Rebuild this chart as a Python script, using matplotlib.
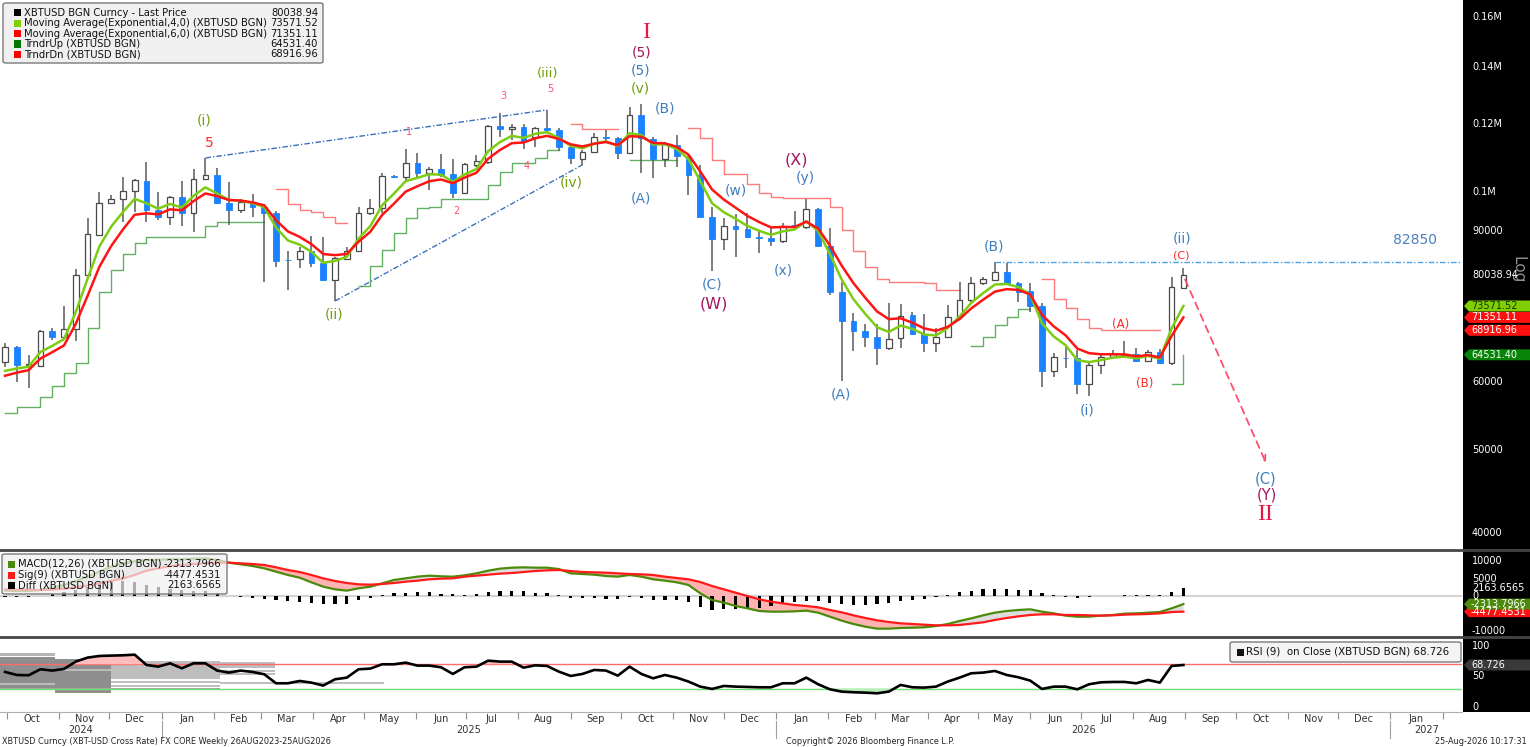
import numpy as np
import pandas as pd
import matplotlib
matplotlib.use("Agg")
import matplotlib.pyplot as plt
import matplotlib.dates as mdates
import matplotlib.transforms as mtransforms
from matplotlib.patches import Polygon, Rectangle, FancyBboxPatch
from matplotlib.lines import Line2D
from matplotlib.ticker import NullLocator

plt.rcParams["font.family"] = ["DejaVu Sans"]

W, H = 1530, 747

# ---------------- data ----------------
dates = pd.date_range("2024-09-30", periods=101, freq="7D")

opens = [63300, 65900, 62800, 62600, 68800, 67700, 69150, 79950, 89050, 97050,
         98100, 100200, 102900, 95250, 93450, 98600, 94500, 103500, 104600, 97050,
         95250, 97050, 96000, 94500, 83250, 83450, 85300, 82600, 78900, 83450,
         85300, 94500, 95750, 104300, 104050, 108050, 105150, 106300, 104900, 99700,
         107500, 108300, 119400, 118400, 119050, 115900, 118750, 118100, 112800, 109200,
         111300, 115900, 115550, 111000, 122900, 115300, 109200, 113400, 109800, 104600,
         93450, 88100, 91200, 90500, 88550, 88300, 87600, 91450, 91000, 95500,
         86450, 76400, 70650, 68800, 67700, 65700, 67500, 71800, 68250, 66600,
         67700, 71400, 74750, 78250, 78900, 80600, 78250, 76600, 73550, 61750,
         64050, 64000, 59650, 62800, 64150, 64300, 64650, 63450, 65000, 63100,
         77200]
highs = [66600, 66100, 64500, 69000, 69350, 73550, 81250, 93200, 99950, 99150,
         104050, 103500, 108300, 99950, 98900, 102900, 106300, 109500, 106550, 102650,
         98100, 99400, 96800, 95000, 85300, 86200, 88800, 88550, 83950, 86200,
         96000, 98100, 105150, 104600, 112200, 111000, 106950, 110700, 109200, 108050,
         110400, 119700, 123550, 120000, 120000, 119050, 124600, 118750, 113400, 111900,
         117150, 118100, 115900, 125600, 126650, 115900, 114400, 116500, 110100, 107500,
         96000, 93200, 94200, 94500, 90250, 91000, 91950, 95000, 98100, 95750,
         90750, 78450, 72200, 70100, 70100, 74150, 73950, 72400, 72000, 69350,
         73750, 78450, 79550, 79550, 82850, 82600, 78450, 78250, 74150, 64850,
         65900, 65350, 63300, 64500, 65350, 66950, 65700, 65350, 65550, 79550,
         81500]
lows = [62450, 60000, 59000, 62450, 67150, 67150, 66950, 79750, 88800, 96800,
        92200, 94750, 92200, 92700, 91450, 91200, 89750, 103200, 96800, 91450,
        94500, 93450, 78450, 81700, 76800, 81500, 81700, 78700, 74550, 83250,
        85050, 93950, 94500, 103750, 103200, 104050, 100500, 104050, 98350, 99400,
        106950, 107800, 115900, 115000, 112200, 112800, 117800, 111600, 107800, 107500,
        111000, 114400, 109200, 110700, 105150, 103750, 106950, 106950, 99150, 93200,
        80800, 85500, 83950, 88350, 84850, 86450, 87150, 90750, 90500, 86200,
        75750, 60150, 65200, 65900, 62800, 65350, 65700, 68050, 65000, 65000,
        67500, 70850, 74350, 77850, 78700, 77850, 74350, 72400, 59150, 60800,
        62250, 58050, 57750, 61300, 64000, 64000, 63300, 63300, 62950, 62800,
        77000]
closes = [65900, 62800, 62950, 68800, 67700, 69150, 79950, 89300, 97050, 98100,
          100200, 103200, 95250, 93450, 98600, 94500, 103500, 104600, 97050, 95250,
          97300, 96000, 94500, 83050, 83150, 85300, 82600, 78900, 83700, 85300,
          94500, 95750, 104300, 104050, 108050, 105150, 106300, 104600, 99700, 107800,
          108600, 119400, 118400, 119050, 114700, 118750, 118100, 112800, 109500, 111300,
          115900, 115550, 111000, 122900, 115550, 109200, 113700, 110100, 104600, 93450,
          88100, 91200, 90500, 88550, 88300, 87600, 91200, 91000, 95500, 86450,
          76400, 70650, 68800, 67700, 65700, 67300, 71600, 68250, 66600, 67700,
          71400, 74750, 78250, 79100, 80600, 78250, 76400, 73550, 61750, 64150,
          63900, 59650, 62800, 64150, 64650, 64500, 63450, 65000, 63100, 77400,
          80038.94]

# EMA values on the first visible week (history before it is not shown)
ema4_first = 61800
ema6_first = 61000

# TrndrUp / TrndrDn step lines: (first week index, weekly values)
trndr_up = [
    (0, [55190, 56120, 56120, 57650, 59330, 61490, 63120, 69340, 76450, 81040, 84610, 87220,
         88630, 88630, 88630, 88630, 88630, 91220, 92140, 92140, 92140, 92140, 92140]),
    (30, [77630, 81920, 85520, 89450, 93140, 95680, 96090, 98000, 98000, 98000, 98000,
          101800, 105520, 108150, 108150, 109450, 111800, 111800]),
    (53, [108900, 108900, 108900, 108900, 108900]),
    (82, [66070, 67740, 69900, 71490, 72920, 72920]),
    (99, [59650, 64531.40]),
]
trndr_dn = [
    (23, [100690, 96780, 95240, 94810, 93540, 91890, 91890]),
    (48, [119920, 118320, 118320, 118320, 118320]),
    (58, [118630, 115520, 108900, 104880, 104880, 102080, 99600, 98690, 98270, 98270, 98270,
          98270, 96090, 90250, 85360, 81760, 79040, 78530, 78530, 78530, 78190, 76800,
          76800, 76800]),
    (88, [79040, 74900, 73110, 71040, 69290, 68916.96, 68916.96, 68916.96, 68916.96,
          68916.96, 68916.96]),
]

macd = [1530, 1430, 1430, 1720, 2380, 3150, 4290, 5530, 6960, 8390,
        9340, 9920, 10300, 10390, 10490, 10490, 10680, 10770, 10300, 9530,
        9060, 8580, 7910, 6960, 6010, 5240, 3910, 2670, 1910, 1530,
        2190, 2670, 3620, 4580, 5050, 5530, 5820, 5630, 5530, 5910,
        6480, 7250, 7820, 8100, 8200, 8100, 8100, 7720, 6480, 6290,
        6100, 5720, 5530, 6010, 5530, 4770, 4390, 3910, 3150, 760,
        -1140, -1910, -2860, -3530, -4290, -4480, -4480, -4390, -4190, -4770,
        -5910, -7050, -8010, -8770, -9340, -9340, -9150, -9060, -8960, -8580,
        -8010, -7150, -6390, -5530, -4770, -4290, -4000, -3810, -4480, -4960,
        -5620, -5910, -5910, -5620, -5430, -5050, -4960, -4770, -4580, -3530,
        -2313.7966]
sig = [1910, 1810, 1720, 1720, 1810, 2100, 2480, 2960, 3620, 4290,
       5050, 6010, 7250, 7910, 8580, 8870, 9150, 9340, 9530, 9530,
       9340, 9150, 8870, 8200, 7440, 6860, 6010, 5050, 4290, 3720,
       3340, 3240, 3430, 3720, 4100, 4390, 4770, 4960, 5050, 5530,
       5820, 6100, 6390, 6580, 6860, 7150, 7340, 7440, 7150, 6860,
       6770, 6670, 6480, 6290, 6200, 6010, 5530, 5150, 4770, 4000,
       2860, 1910, 950, 0, -950, -1620, -2100, -2570, -2860, -3240,
       -4000, -4670, -5530, -6290, -6960, -7440, -7820, -8010, -8200, -8390,
       -8390, -8290, -7910, -7530, -6860, -6290, -5820, -5430, -5240, -5240,
       -5430, -5430, -5530, -5620, -5530, -5340, -5240, -5150, -4960, -4580,
       -4477.4531]
rsi = [57.3, 52.3, 51.8, 61.7, 59.5, 62.2, 74.3, 80.9, 83.6, 84.2,
       84.7, 85.8, 68.8, 66.0, 71.5, 63.3, 71.5, 71.5, 59.5, 56.2,
       59.5, 57.3, 53.4, 38.6, 38.6, 42.4, 39.7, 34.8, 45.2, 47.9,
       61.7, 62.8, 69.9, 69.9, 72.6, 67.7, 67.7, 65.0, 54.0, 65.0,
       66.0, 75.9, 74.3, 74.3, 64.4, 68.2, 67.1, 57.8, 50.7, 54.0,
       60.6, 59.5, 51.2, 66.0, 54.0, 46.8, 52.3, 47.9, 41.4, 33.1,
       29.3, 34.2, 33.1, 32.6, 32.0, 32.0, 38.6, 38.6, 47.9, 37.0,
       28.7, 24.9, 23.8, 23.2, 22.1, 24.9, 35.9, 32.0, 31.5, 33.1,
       41.4, 47.9, 55.1, 56.2, 58.9, 52.3, 48.5, 43.0, 29.3, 33.1,
       33.1, 28.7, 37.0, 40.2, 40.8, 40.8, 38.6, 44.1, 39.7, 67.1,
       68.726]

# grey ghost bars in the RSI pane: (start week, end week, rsi low, rsi high, grey)
rsi_blocks = [(-0.5, 4.2, 83.4, 88.5, "#b4b4b4"), (-0.5, 4.2, 28.0, 82.0, "#8e8e8e"),
              (4.2, 9.0, 22.0, 78.0, "#8e8e8e"), (4.2, 9.0, 82.8, 84.0, "#c4c4c4"),
              (-0.5, 18.2, 28.5, 31.0, "#a4a4a4")]
rsi_streaks = [(9.0, 18.2, 74.1), (9.0, 22.9, 72.4), (9.0, 22.9, 68.7), (9.0, 22.9, 65.9),
               (9.0, 18.2, 62.1), (9.0, 22.9, 59.3), (9.0, 18.2, 56.6), (9.0, 22.9, 53.4),
               (9.0, 18.2, 50.6), (9.0, 18.2, 46.5), (9.0, 18.2, 40.2), (18.2, 32.2, 39.5),
               (9.0, 18.2, 34.6), (4.2, 9.0, 60.0), (-0.5, 4.2, 38.0)]

legend_names = ["XBTUSD BGN Curncy - Last Price",
                "Moving Average(Exponential,4,0) (XBTUSD BGN)",
                "Moving Average(Exponential,6,0) (XBTUSD BGN)",
                "TrndrUp (XBTUSD BGN)", "TrndrDn (XBTUSD BGN)"]
legend_vals = ["80038.94", "73571.52", "71351.11", "64531.40", "68916.96"]
legend_cols = ["#000000", "#7fd000", "#ff0000", "#007800", "#ff0000"]

macd_names = ["MACD(12,26) (XBTUSD BGN)", "Sig(9) (XBTUSD BGN)", "Diff (XBTUSD BGN)"]
macd_vals = ["-2313.7966", "-4477.4531", "2163.6565"]
macd_cols = ["#4b8a0a", "#ff1a1a", "#000000"]

price_ticks = [160000, 140000, 120000, 100000, 90000, 60000, 50000, 40000]
price_labels = ["0.16M", "0.14M", "0.12M", "0.1M", "90000", "60000", "50000", "40000"]
macd_ticks = [10000, 5000, 0, -10000]
rsi_ticks = [100, 50, 0]

target_level = 82850
proj_date = pd.Timestamp("2026-10-19")
proj_price = 48300

# ---------------- helpers ----------------
def fx(x):
    return x / W

def fy(y):
    return 1 - y / H

def ema(vals, span, first):
    a = 2.0 / (span + 1)
    out = [first]
    for v in vals[1:]:
        out.append(a * v + (1 - a) * out[-1])
    return np.array(out)

o, h, l, c = (np.array(v, dtype=float) for v in (opens, highs, lows, closes))
xd = mdates.date2num(dates.to_pydatetime())
ema4 = ema(closes, 4, ema4_first)
ema6 = ema(closes, 6, ema6_first)
macd_a = np.array(macd)
sig_a = np.array(sig)
rsi_a = np.array(rsi)

fig = plt.figure(figsize=(W / 100, H / 100), dpi=100)
ax = fig.add_axes([0, fy(548), fx(1462), 548 / H])
axm = fig.add_axes([0, fy(636), fx(1462), 85 / H])
axr = fig.add_axes([0, fy(712), fx(1462), 74 / H])

ax.set_yscale("log")
xlo = mdates.date2num(pd.Timestamp("2024-09-27").to_pydatetime())
xhi = mdates.date2num(pd.Timestamp("2027-02-12 12:00").to_pydatetime())
for a in (ax, axm, axr):
    a.set_xlim(xlo, xhi)
    for s in a.spines.values():
        s.set_visible(False)
    a.yaxis.set_major_locator(NullLocator())
    a.yaxis.set_minor_locator(NullLocator())
    a.tick_params(axis="x", which="both", bottom=False, labelbottom=False)
ax.set_ylim(38400, 167400)
axm.set_ylim(-11440, 12870)
axr.set_ylim(-8.7, 113.2)

# ---------------- main pane ----------------
for start, vals in trndr_up:
    idx = np.arange(start, start + len(vals))
    ax.plot(xd[idx], vals, drawstyle="steps-post", color="#62b062", lw=1.0, zorder=1)
for start, vals in trndr_dn:
    idx = np.arange(start, start + len(vals))
    ax.plot(xd[idx], vals, drawstyle="steps-post", color="#ff7a7a", lw=1.0, zorder=1)

up = c >= o
lo_b = np.minimum(o, c)
hi_b = np.maximum(o, c)
ax.vlines(xd, l, h, color="#5a5a5a", lw=1.1, zorder=2)
ax.bar(xd[up], hi_b[up] - lo_b[up], bottom=lo_b[up], width=3.4,
       facecolor="white", edgecolor="#4a4a4a", lw=0.9, zorder=3)
ax.bar(xd[~up], hi_b[~up] - lo_b[~up], bottom=lo_b[~up], width=3.4,
       facecolor="#1a82ff", edgecolor="#1a82ff", lw=0.6, zorder=3)

ax.plot(xd, ema4, color="#7ccd12", lw=1.8, zorder=4)
ax.plot(xd, ema6, color="#ff1414", lw=1.8, zorder=4)

# wedge lines and target line
wedge = (0, (4, 1.5, 1, 1.5))
ax.plot([xd[17], xd[46]], [h[17], h[46]], color="#3a70b8", lw=1.0, ls=wedge, zorder=5)
ax.plot([xd[28], xd[49]], [l[28], l[49]], color="#3a70b8", lw=1.0, ls=wedge, zorder=5)
ax.hlines(target_level, xd[84], xhi, color="#4aa3e8", lw=1.0, ls=wedge, zorder=5)

ax.annotate("", xy=(mdates.date2num(proj_date.to_pydatetime()), proj_price),
            xytext=(xd[100] + 1, 79000),
            arrowprops=dict(arrowstyle="->", color="#ff4d6d", lw=1.3, ls=(0, (4, 3)),
                            shrinkA=0, shrinkB=0), zorder=5)

OLIVE = "#6f9f0a"
BLUE = "#3f7fc0"
MAROON = "#a3155f"
RED = "#ff2a2a"
PINK = "#ff4d6a"
CRIMSON = "#e8174a"
labels = [
    ("I", 646, 32, CRIMSON, 17, "Liberation Serif"),
    ("(5)", 642, 52, MAROON, 10, None), ("(5)", 641, 70, BLUE, 10, None),
    ("(v)", 640, 89, OLIVE, 10, None), ("(B)", 665, 109, BLUE, 10, None),
    ("(A)", 641, 198, BLUE, 10, None), ("(i)", 204, 121, OLIVE, 10, None),
    ("5", 209, 143, RED, 10, None), ("(iii)", 548, 73, OLIVE, 9.5, None),
    ("5", 550, 89, PINK, 7, None), ("3", 503, 96, PINK, 7, None),
    ("1", 409, 132, PINK, 7, None), ("2", 456, 211, PINK, 7, None),
    ("4", 527, 166, PINK, 7, None), ("(ii)", 334, 314, OLIVE, 10, None),
    ("(iv)", 571, 183, OLIVE, 10, None), ("(C)", 712, 284, BLUE, 10, None),
    ("(W)", 714, 304, MAROON, 11.5, None), ("(w)", 736, 191, BLUE, 10, None),
    ("(x)", 783, 270, BLUE, 10, None), ("(y)", 805, 178, BLUE, 10, None),
    ("(X)", 796, 160, MAROON, 11.5, None), ("(A)", 841, 395, BLUE, 10, None),
    ("(B)", 994, 247, BLUE, 10, None), ("(i)", 1087, 411, BLUE, 10, None),
    ("(ii)", 1182, 238, BLUE, 10, None), ("(C)", 1181, 255, RED, 8, None),
    ("(A)", 1121, 324, RED, 8.5, None), ("(B)", 1145, 384, RED, 8.5, None),
    ("82850", 1415, 240, "#4a7fc0", 10, None), ("(C)", 1266, 479, BLUE, 10.5, None),
    ("(Y)", 1267, 495, MAROON, 10.5, None), ("II", 1265, 515, CRIMSON, 17, "Liberation Serif"),
]
for txt, x, y, col, size, fam in labels:
    kw = {"family": fam} if fam else {}
    fig.text(fx(x), fy(y), txt, color=col, fontsize=size, ha="center", va="center",
             zorder=6, **kw)

# ---------------- MACD pane ----------------
axm.axhline(0, color="#d4d4d4", lw=1.6, zorder=1)
axm.fill_between(xd, macd_a, sig_a, where=macd_a < sig_a, interpolate=True,
                 color="#ffb3b3", lw=0, zorder=2)
axm.fill_between(xd, macd_a, sig_a, where=macd_a >= sig_a, interpolate=True,
                 color="#dedede", lw=0, zorder=2)
axm.bar(xd, macd_a - sig_a, width=1.9, color="black", zorder=3)
axm.plot(xd, macd_a, color="#4b8a0a", lw=1.6, zorder=4)
axm.plot(xd, sig_a, color="#ff1a1a", lw=1.6, zorder=4)

# ---------------- RSI pane ----------------
wk = lambda w: xd[0] + 7 * w
for s0, s1, r0, r1, g in rsi_blocks:
    axr.add_patch(Rectangle((wk(s0), r0), wk(s1) - wk(s0), r1 - r0, facecolor=g,
                            edgecolor="none", zorder=1))
for s0, s1, r in rsi_streaks:
    axr.hlines(r, wk(s0), wk(s1), color="#bdbdbd", lw=1.4, zorder=1)
axr.axhline(70, color="#ff6a6a", lw=1.0, zorder=2)
axr.axhline(30, color="#6ee06e", lw=1.0, zorder=2)
axr.fill_between(xd, rsi_a, 70, where=rsi_a > 70, interpolate=True, color="#ffbcbc", lw=0, zorder=2)
axr.fill_between(xd, rsi_a, 30, where=rsi_a < 30, interpolate=True, color="#b6f0b6", lw=0, zorder=2)
axr.plot(xd, rsi_a, color="black", lw=1.9, zorder=3)

# ---------------- x axis ----------------
month_starts = pd.date_range("2024-10-01", "2027-02-01", freq="MS")
month_mids = pd.date_range("2024-10-01", "2027-01-01", freq="MS") + pd.Timedelta(days=15)
axr.set_xticks(mdates.date2num(month_starts.to_pydatetime()))
axr.set_xticklabels([])
axr.set_xticks(mdates.date2num(month_mids.to_pydatetime()), minor=True)
axr.set_xticklabels([d.strftime("%b") for d in month_mids], minor=True)
axr.tick_params(axis="x", which="major", bottom=True, length=5, width=0.8,
                color="#909090", direction="out")
axr.tick_params(axis="x", which="minor", bottom=True, length=0, labelbottom=True,
                pad=1.5, labelsize=7, labelcolor="#333333")
axr.spines["bottom"].set_visible(True)
axr.spines["bottom"].set_color("#b0b0b0")

yr_tr = mtransforms.blended_transform_factory(axr.transData, fig.transFigure)
for yr in [2024, 2025, 2026, 2027]:
    a0 = max(mdates.date2num(pd.Timestamp(f"{yr}-01-01").to_pydatetime()), xlo)
    a1 = min(mdates.date2num(pd.Timestamp(f"{yr + 1}-01-01").to_pydatetime()), xhi)
    fig.text((a0 + a1) / 2, fy(730), str(yr), transform=yr_tr, fontsize=7,
             color="#333333", ha="center", va="center")
    if yr > 2024:
        fig.add_artist(Line2D([a0, a0], [fy(721), fy(738)], transform=yr_tr,
                              color="#a0a0a0", lw=0.8))

fig.text(fx(2), fy(741), "XBTUSD Curncy (XBT-USD Cross Rate) FX CORE Weekly 26AUG2023-25AUG2026",
         fontsize=5.9, color="#222222", ha="left", va="center")
fig.text(fx(870), fy(741), "Copyright\u00a9 2026 Bloomberg Finance L.P.", fontsize=5.9,
         color="#222222", ha="center", va="center")
fig.text(fx(1527), fy(741), "25-Aug-2026 10:17:31", fontsize=5.9, color="#222222",
         ha="right", va="center")

# ---------------- right axis (black strip) ----------------
fig.add_artist(Rectangle((fx(1463), fy(712)), 1 - fx(1463), 712 / H,
                         transform=fig.transFigure, facecolor="black", edgecolor="none",
                         zorder=-1))

def ypos(axis, value):
    return axis.transData.transform((xlo, value))[1] / H

def axis_label(axis, value, text):
    fig.text(fx(1472), ypos(axis, value), text, color="white", fontsize=7,
             ha="left", va="center", zorder=3)

def value_tag(axis, value, text, face, tcol):
    yf = ypos(axis, value)
    hh = 5.5 / H
    pts = [(fx(1464), yf), (fx(1469), yf + hh), (1.0, yf + hh), (1.0, yf - hh),
           (fx(1469), yf - hh)]
    fig.add_artist(Polygon(pts, closed=True, transform=fig.transFigure, facecolor=face,
                           edgecolor="none", zorder=2))
    fig.text(fx(1471), yf, text, color=tcol, fontsize=7, ha="left", va="center", zorder=3)

# the "Log" mark sits behind the last price label, as on the terminal
fig.text(fx(1518), fy(270), "Log", rotation=270, color="#8f8f8f", fontsize=11,
         ha="center", va="center", zorder=1)
for v, t in zip(price_ticks, price_labels):
    axis_label(ax, v, t)
axis_label(ax, closes[-1], "80038.94")
value_tag(ax, 73571.52, "73571.52", "#7fcf00", "#1c3000")
value_tag(ax, 71351.11, "71351.11", "#ff1010", "white")
value_tag(ax, 68916.96, "68916.96", "#ff1010", "white")
value_tag(ax, 64531.40, "64531.40", "#078407", "white")

for v in macd_ticks:
    axis_label(axm, v, str(v))
axis_label(axm, 2163.6565, "2163.6565")
value_tag(axm, -4477.4531, "-4477.4531", "#ff1010", "white")
value_tag(axm, -2313.7966, "-2313.7966", "#4b8a0a", "white")

for v in rsi_ticks:
    axis_label(axr, v, str(v))
value_tag(axr, 68.726, "68.726", "#3a3a3a", "white")

# pane separators
for yy in (549.5, 637):
    fig.add_artist(Line2D([0, 1], [fy(yy), fy(yy)], transform=fig.transFigure,
                          color="#454545", lw=2.0, zorder=7))

# ---------------- legends ----------------
def legend_box(x0, y0, x1, y1, face):
    fig.add_artist(FancyBboxPatch((fx(x0), fy(y1)), fx(x1) - fx(x0), fy(y0) - fy(y1),
                                  boxstyle="round,pad=0,rounding_size=0.002",
                                  transform=fig.transFigure, facecolor=face,
                                  edgecolor="#7a7a7a", lw=1.0, zorder=8))

def legend_rows(x_sq, x_txt, x_val, ys, names, vals, cols):
    for y, n, v, col in zip(ys, names, vals, cols):
        fig.add_artist(Rectangle((fx(x_sq), fy(y + 3.5)), 7 / W, 7 / H,
                                 transform=fig.transFigure, facecolor=col,
                                 edgecolor="none", zorder=9))
        fig.text(fx(x_txt), fy(y), n, fontsize=7.2, color="#111111", ha="left",
                 va="center", zorder=9)
        fig.text(fx(x_val), fy(y), v, fontsize=7.2, color="#111111", ha="right",
                 va="center", zorder=9)

legend_box(3, 3, 323, 63, "#f0f0f0")
legend_rows(14, 24, 318, [12.7, 23.3, 33.7, 44.0, 54.3], legend_names, legend_vals, legend_cols)

legend_box(2, 554, 227, 594, (0.94, 0.94, 0.94, 0.72))
legend_rows(8, 18, 221, [564, 575, 585.5], macd_names, macd_vals, macd_cols)

legend_box(1230, 642, 1461, 662, "#f4f4f4")
fig.add_artist(Rectangle((fx(1237), fy(655.5)), 7 / W, 7 / H, transform=fig.transFigure,
                         facecolor="#111111", edgecolor="none", zorder=9))
fig.text(fx(1246), fy(652), "RSI (9)  on Close (XBTUSD BGN) 68.726", fontsize=7.4,
         color="#111111", ha="left", va="center", zorder=9)

fig.savefig("out.png", dpi=100)
